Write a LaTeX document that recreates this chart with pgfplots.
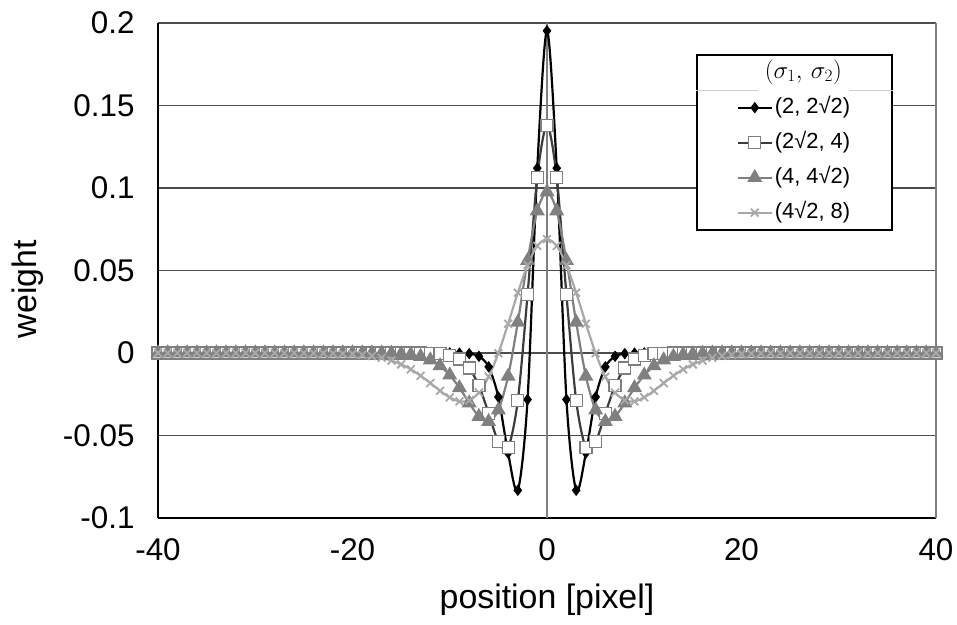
\documentclass[border=0pt]{standalone}
\usepackage{fontspec}
\setmainfont{Liberation Sans}
\usepackage{pgfplots}
\usepackage{pgfplotstable}
\pgfplotsset{compat=1.18}
\usetikzlibrary{calc}
\definecolor{sq}{HTML}{3C3C3C}
\definecolor{sqm}{HTML}{7F7F7F}
\definecolor{tri}{HTML}{808080}
\definecolor{xs}{HTML}{A8A8A8}
\definecolor{grd}{HTML}{4D4D4D}

\pgfplotstableread{
x a b c d
-40 0 0 0 0
-39 0 0 0 0
-38 0 0 0 0
-37 0 0 0 0
-36 0 0 0 0
-35 0 0 0 0
-34 0 0 0 0
-33 0 0 0 0
-32 0 0 0 0
-31 0 0 0 0
-30 0 0 0 0
-29 0 0 0 0
-28 0 0 0 0
-27 0 0 0 0
-26 0 0 0 0
-25 0 0 0 0
-24 0 0 0 -0.0001
-23 0 0 0 -0.0001
-22 0 0 0 -0.0002
-21 0 0 0 -0.0004
-20 0 0 0 -0.0006
-19 0 0 0 -0.0011
-18 0 0 0 -0.0018
-17 0 0 -0.0001 -0.0029
-16 0 0 -0.0002 -0.0046
-15 0 0 -0.0005 -0.0069
-14 0 0 -0.0010 -0.0099
-13 0 0 -0.0021 -0.0138
-12 0 -0.0001 -0.0042 -0.0182
-11 0 -0.0004 -0.0078 -0.0229
-10 0 -0.0013 -0.0134 -0.0269
-9 -0.0001 -0.0036 -0.0211 -0.0293
-8 -0.0004 -0.0091 -0.0303 -0.0287
-7 -0.0020 -0.0199 -0.0385 -0.0240
-6 -0.0084 -0.0365 -0.0416 -0.0144
-5 -0.0267 -0.0538 -0.0346 -0.0001
-4 -0.0606 -0.0574 -0.0141 0.0177
-3 -0.0832 -0.0288 0.0186 0.0365
-2 -0.0282 0.0353 0.0560 0.0533
-1 0.1120 0.1065 0.0861 0.0649
0 0.1953 0.1381 0.0976 0.0690
1 0.1120 0.1065 0.0861 0.0649
2 -0.0282 0.0353 0.0560 0.0533
3 -0.0832 -0.0288 0.0186 0.0365
4 -0.0606 -0.0574 -0.0141 0.0177
5 -0.0267 -0.0538 -0.0346 -0.0001
6 -0.0084 -0.0365 -0.0416 -0.0144
7 -0.0020 -0.0199 -0.0385 -0.0240
8 -0.0004 -0.0091 -0.0303 -0.0287
9 -0.0001 -0.0036 -0.0211 -0.0293
10 0 -0.0013 -0.0134 -0.0269
11 0 -0.0004 -0.0078 -0.0229
12 0 -0.0001 -0.0042 -0.0182
13 0 0 -0.0021 -0.0138
14 0 0 -0.0010 -0.0099
15 0 0 -0.0005 -0.0069
16 0 0 -0.0002 -0.0046
17 0 0 -0.0001 -0.0029
18 0 0 0 -0.0018
19 0 0 0 -0.0011
20 0 0 0 -0.0006
21 0 0 0 -0.0004
22 0 0 0 -0.0002
23 0 0 0 -0.0001
24 0 0 0 -0.0001
25 0 0 0 0
26 0 0 0 0
27 0 0 0 0
28 0 0 0 0
29 0 0 0 0
30 0 0 0 0
31 0 0 0 0
32 0 0 0 0
33 0 0 0 0
34 0 0 0 0
35 0 0 0 0
36 0 0 0 0
37 0 0 0 0
38 0 0 0 0
39 0 0 0 0
40 0 0 0 0
}\dogdata

\begin{document}
\begin{tikzpicture}
\path (0,0) rectangle (957bp,625bp);
\begin{axis}[
  at={(158bp,107bp)}, anchor=south west,
  scale only axis, width=778bp, height=495bp,
  xmin=-40, xmax=40, ymin=-0.1, ymax=0.2,
  clip=false,
  axis x line*=bottom, axis y line*=left,
  axis line style={-, black, line width=1.6bp},
  xtick={-40,-20,0,20,40},
  xticklabels={-40,-20,0,20,40},
  ytick={-0.1,-0.05,0,0.05,0.1,0.15,0.2},
  yticklabels={-0.1,-0.05,0,0.05,0.1,0.15,0.2},
  major tick length=0pt,
  ymajorgrids,
  major grid style={grd, line width=1.4bp},
  extra x ticks={0,40}, extra x tick labels={},
  extra x tick style={grid=major, major grid style={tri, line width=1.2bp}},
  tick label style={font=\fontsize{31.5}{36}\selectfont},
  xticklabel style={anchor=north, yshift=-17bp},
  yticklabel style={anchor=east, xshift=-20bp},
  xlabel={position [pixel]},
  ylabel={weight},
  label style={font=\fontsize{34}{40}\selectfont},
  xlabel style={at={(axis description cs:0.5,-0.166)}, anchor=center},
  ylabel style={at={(axis description cs:-0.167,0.462)}, anchor=center, rotate=0},
  legend image code/.code={\draw[mark repeat=2,mark phase=2,#1] plot coordinates {(0bp,0bp)(17bp,0bp)(34bp,0bp)};},
  legend cell align=left,
  legend style={name=L, at={(rel axis cs:0.945,0.937)}, anchor=north east,
    draw=black, line width=2bp, fill=white,
    font=\fontsize{22}{26}\selectfont,
    inner xsep=40bp, inner ysep=4bp, row sep=8bp,
    nodes={text height=17bp, text depth=6bp}},
]
\addlegendimage{empty legend}
\addlegendentry{\hspace*{-10bp}\fontsize{24}{28}\selectfont$(\sigma_{1},\,\sigma_{2})$}
\addplot[black, line width=2.2bp, smooth, mark=diamond*, mark size=4bp, mark options={solid, fill=black}]
  table[x=x, y=a] {\dogdata};
\addlegendentry{(2, 2√2)}
\addplot[sq, line width=2.2bp, smooth, mark=square*, mark size=6bp, mark options={solid, fill=white, draw=sqm, line width=1.2bp}]
  table[x=x, y=b] {\dogdata};
\addlegendentry{(2√2, 4)}
\addplot[tri, line width=2.2bp, smooth, mark=triangle*, mark size=6.5bp, mark options={solid, fill=tri}]
  table[x=x, y=c] {\dogdata};
\addlegendentry{(4, 4√2)}
\addplot[xs, line width=2.2bp, smooth, mark=x, mark size=5.5bp, mark options={solid, line width=1.8bp}]
  table[x=x, y=d] {\dogdata};
\addlegendentry{(4√2, 8)}
\end{axis}
\draw[black!20, line width=1bp] ([yshift=-36bp]L.north west) -- ++(62bp,0);
\draw[black!20, line width=1bp] ([yshift=-36bp]L.north east) -- ++(-44bp,0);
\end{tikzpicture}
\end{document}
